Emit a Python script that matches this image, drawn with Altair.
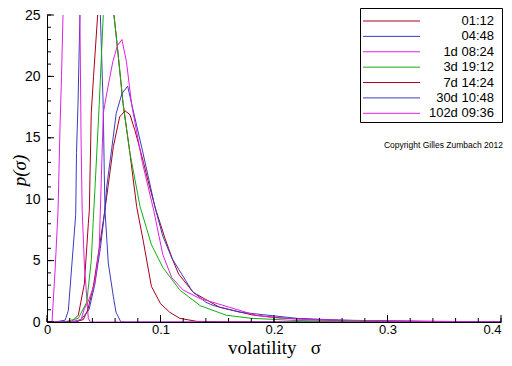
import altair as alt
import pandas as pd

# ---- data ----
labels = ["01:12", "04:48", "1d 08:24", "3d 19:12", "7d 14:24", "30d 10:48", "102d 09:36"]
colors = ["#a8001c", "#3c3cc0", "#e020e0", "#10b010", "#a8001c", "#3c3cc0", "#e020e0"]

s_0112 = [0.0, 0.012, 0.022, 0.0276, 0.0329, 0.0364, 0.0373, 0.039, 0.041, 0.045, 0.050, 0.055, 0.059, 0.062,
          0.067, 0.073, 0.079, 0.085, 0.092, 0.100, 0.108, 0.117, 0.132, 0.16, 0.2, 0.3, 0.4]
p_0112 = [0, 0, 0.05, 0.55, 3.1, 8.0, 9.1, 17, 20, 25.5, 31, 30, 25, 22.4,
          17.8, 13.8, 9.4, 6.5, 2.9, 1.5, 0.8, 0.3, 0.05, 0.02, 0.01, 0, 0]

s_0448 = [0.0, 0.007, 0.016, 0.0188, 0.022, 0.0253, 0.026, 0.0273, 0.029, 0.034, 0.039, 0.044, 0.047,
          0.0495, 0.0505, 0.0511, 0.054, 0.0584, 0.0608, 0.065, 0.07, 0.4]
p_0448 = [0, 0, 0.15, 0.94, 4.8, 8.75, 13.8, 17.7, 25, 40, 46, 36, 25,
          17.7, 12, 9.1, 4.8, 2.1, 0.8, 0.02, 0, 0]

s_1d = [0.0, 0.0044, 0.0070, 0.0097, 0.0115, 0.0128, 0.0141, 0.017, 0.021, 0.026, 0.029, 0.030, 0.031,
        0.033, 0.0364, 0.038, 0.4]
p_1d = [0, 0, 4, 9, 16, 20, 25, 42, 55, 45, 25, 15, 9.1,
        4.5, 0.3, 0, 0]

s_3d = [0.0, 0.015, 0.0276, 0.035, 0.039, 0.041, 0.0425, 0.046, 0.0496, 0.054, 0.059, 0.062, 0.067, 0.073,
        0.082, 0.092, 0.102, 0.117, 0.135, 0.158, 0.18, 0.22, 0.26, 0.3, 0.35, 0.4]
p_3d = [0, 0, 0.3, 1.6, 5, 8.7, 11.3, 17.7, 25, 28.5, 25, 22.4, 17.8, 13.8,
        9.4, 6.3, 4.45, 2.6, 1.33, 0.55, 0.3, 0.12, 0.07, 0.04, 0.02, 0.01]

s_7d = [0.0, 0.025, 0.032, 0.036, 0.041, 0.046, 0.051, 0.0585, 0.064, 0.0687, 0.073, 0.0775, 0.085, 0.089,
        0.096, 0.104, 0.111, 0.116, 0.129, 0.152, 0.182, 0.21, 0.25, 0.3, 0.38, 0.4]
p_7d = [0, 0, 0.2, 1, 3, 6, 9.1, 14.3, 16.7, 17.2, 16.9, 15.6, 13, 11.5,
        9.1, 6.8, 5, 3.9, 2.4, 1.2, 0.55, 0.3, 0.15, 0.08, 0.03, 0.01]

s_30d = [0.0, 0.025, 0.030, 0.037, 0.042, 0.047, 0.051, 0.0526, 0.057, 0.061, 0.066, 0.0711, 0.076, 0.084,
         0.090, 0.095, 0.102, 0.110, 0.122, 0.128, 0.140, 0.147, 0.170, 0.190, 0.220, 0.260, 0.330, 0.400]
p_30d = [0, 0, 0.2, 1, 3, 6, 9.1, 11, 14.1, 17, 18.6, 19.2, 17.2, 14,
         11.5, 9.4, 7, 5.2, 3.4, 2.5, 1.6, 1.33, 0.8, 0.6, 0.3, 0.15, 0.05, 0.02]

s_102d = [0.0, 0.020, 0.030, 0.033, 0.036, 0.042, 0.046, 0.0496, 0.053, 0.058, 0.062, 0.066, 0.070, 0.0746,
          0.084, 0.094, 0.102, 0.110, 0.120, 0.135, 0.150, 0.170, 0.184, 0.200, 0.230, 0.270, 0.300, 0.350, 0.400]
p_102d = [0, 0, 0.2, 1.1, 1.6, 3.1, 6, 17, 18.8, 21.2, 22.5, 23, 21.2, 17.7,
          13, 9.1, 5.5, 3.6, 2.6, 1.9, 1.5, 0.94, 0.55, 0.35, 0.2, 0.12, 0.08, 0.03, 0.01]

sigmas = [s_0112, s_0448, s_1d, s_3d, s_7d, s_30d, s_102d]
probs = [p_0112, p_0448, p_1d, p_3d, p_7d, p_30d, p_102d]

x_major = [0, 0.1, 0.2, 0.3, 0.4]
x_minor = [round(i * 0.02, 2) for i in range(21)]
y_major = [0, 5, 10, 15, 20, 25]
y_minor = list(range(26))

# ---- build tables ----
rows = []
for lab, ss, pp in zip(labels, sigmas, probs):
    for s, p in zip(ss, pp):
        rows.append({"series": lab, "sigma": s, "p": p})
df = pd.DataFrame(rows)
leg_df = pd.DataFrame({"series": labels, "row": list(range(len(labels)))})

W, H = 454, 307
xscale = alt.Scale(domain=[0, 0.4], nice=False, zero=False)
yscale = alt.Scale(domain=[0, 25], nice=False)
cscale = alt.Scale(domain=labels, range=colors)

xaxis = alt.Axis(values=x_major, format="~g", title="volatility\u00a0\u00a0\u00a0σ", grid=False,
                 ticks=False, tickSize=0, domainColor="black", labelColor="black",
                 labelFont="Liberation Sans", labelFontSize=13, labelPadding=1,
                 labelAlign=alt.ExprRef(expr="datum.value >= 0.4 ? 'right' : 'center'"),
                 titleFont="Liberation Serif", titleFontSize=19, titleFontWeight="normal",
                 titleColor="black", titleY=31, titleBaseline="alphabetic")
yaxis = alt.Axis(values=y_major, title="p(σ)", grid=False, ticks=False, tickSize=0,
                 domainColor="black", labelColor="black", labelFont="Liberation Sans",
                 labelFontSize=14, labelPadding=7,
                 titleFont="Liberation Serif", titleFontSize=19, titleFontWeight="normal",
                 titleFontStyle="italic", titleColor="black", titleX=-28, titleY=155,
                 titleBaseline="middle")

lines = alt.Chart(df).mark_line(clip=True, strokeWidth=1).encode(
    x=alt.X("sigma:Q", scale=xscale, axis=xaxis),
    y=alt.Y("p:Q", scale=yscale, axis=yaxis),
    color=alt.Color("series:N", scale=cscale, legend=None),
)

ytm = alt.Chart(pd.DataFrame({"v": y_major})).mark_rule(color="black").encode(
    y=alt.Y("v:Q", scale=yscale, axis=None), x=alt.value(0), x2=alt.value(7))
ytn = alt.Chart(pd.DataFrame({"v": y_minor})).mark_rule(color="black").encode(
    y=alt.Y("v:Q", scale=yscale, axis=None), x=alt.value(0), x2=alt.value(4))
xtm = alt.Chart(pd.DataFrame({"sigma": x_major})).mark_rule(color="black").encode(
    x=alt.X("sigma:Q", scale=xscale, axis=xaxis), y=alt.value(H), y2=alt.value(H - 7))
xtn = alt.Chart(pd.DataFrame({"sigma": x_minor})).mark_rule(color="black").encode(
    x=alt.X("sigma:Q", scale=xscale, axis=xaxis), y=alt.value(H), y2=alt.value(H - 4))

row_scale = alt.Scale(domain=[0, 6], range=[6, 98.3])
leg_box = alt.Chart(pd.DataFrame({"a": [0]})).mark_rect(
    fillOpacity=0, stroke="black", strokeWidth=1).encode(
    x=alt.value(313.5), x2=alt.value(455.5), y=alt.value(-6.5), y2=alt.value(107.5))
leg_lines = alt.Chart(leg_df).mark_rule(strokeWidth=1).encode(
    y=alt.Y("row:Q", scale=row_scale, axis=None),
    x=alt.value(316), x2=alt.value(373),
    color=alt.Color("series:N", scale=cscale, legend=None))
leg_text = alt.Chart(leg_df).mark_text(align="right", baseline="middle", font="Liberation Sans",
                                       fontSize=13, color="black").encode(
    y=alt.Y("row:Q", scale=row_scale, axis=None),
    x=alt.value(447), text="series:N")
copyright = alt.Chart(pd.DataFrame({"a": [0]})).mark_text(
    align="right", baseline="middle", font="Liberation Sans", fontSize=8.5, color="black").encode(
    x=alt.value(456), y=alt.value(130), text=alt.value("Copyright Gilles Zumbach 2012"))

chart = alt.layer(lines, ytm, ytn, xtm, xtn, leg_box, leg_lines, leg_text, copyright).resolve_scale(
    y="independent"
).properties(
    width=W, height=H,
    autosize=alt.AutoSizeParams(type="none"),
    padding={"left": 39, "top": 7, "right": 3, "bottom": 36},
    background="white",
).configure_view(strokeWidth=0)

chart.save("out.html", embed_options={"renderer": "svg", "actions": False})
